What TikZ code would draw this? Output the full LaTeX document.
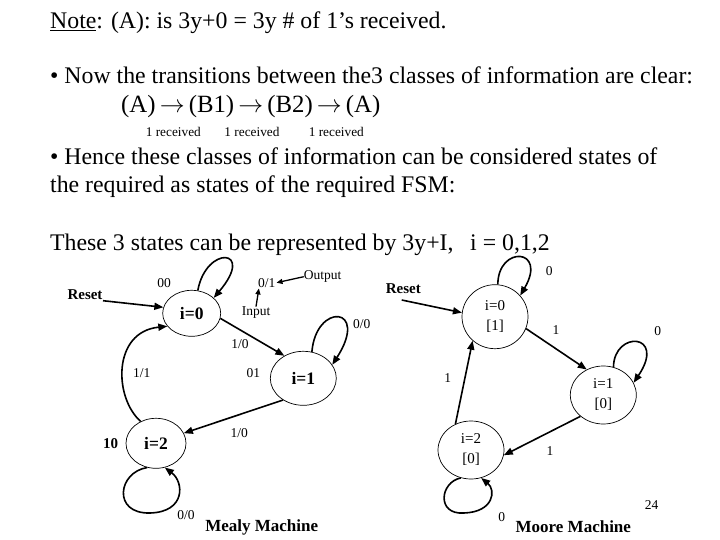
\documentclass[tikz,border=0pt]{standalone}
\usepackage{fontspec}
\setmainfont{Liberation Serif}
\usetikzlibrary{shapes.geometric,arrows.meta}
\tikzset{
  bigtext/.style={anchor=base west,inner sep=0pt,font=\fontsize{23.8}{26}\selectfont},
  smalltext/.style={inner sep=0pt,font=\fontsize{13.3}{15}\selectfont},
  lbl/.style={inner sep=0pt,font=\fontsize{13.5}{15}\selectfont},
  boldlbl/.style={inner sep=0pt,font=\fontsize{15}{17}\bfseries\selectfont},
  title/.style={inner sep=0pt,font=\fontsize{17}{19}\bfseries\selectfont},
  mstate/.style={ellipse,draw,line width=0.7pt,inner sep=0pt,font=\fontsize{17.5}{19}\bfseries\selectfont},
  ostate/.style={ellipse,draw,line width=0.7pt,inner sep=0pt,align=center,font=\fontsize{15}{20}\selectfont},
  tr/.style={line width=1.6pt,-{Triangle[length=9pt,width=7pt]}},
  thin tr/.style={line width=1.3pt,-{Triangle[length=6pt,width=5pt]}}
}
\newcommand{\myarr}{\,$\rightarrow$\,}
\begin{document}
\begin{tikzpicture}[x=1pt,y=-1pt]
\useasboundingbox (0,0) rectangle (720,540);
\fill[white] (0,0) rectangle (720,540);
% header text
\node[bigtext] (t1) at (50,29) {\underline{Note}: (A): is 3y+0 = 3y \# of 1’s received.};
\node[bigtext] (t2) at (50,84) {• Now the transitions between the3 classes of information are clear:};
\node[bigtext,font=\fontsize{24.8}{26}\selectfont] (t3) at (121,113) {(A)\myarr(B1)\myarr(B2)\myarr(A)};
\node[smalltext,anchor=base] (r1) at (173.3,137) {1 received};
\node[smalltext,anchor=base] (r2) at (252,137) {1 received};
\node[smalltext,anchor=base] (r3) at (336.3,137) {1 received};
\node[bigtext] (t4) at (50,165) {• Hence these classes of information can be considered states of};
\node[bigtext] (t5) at (50,193) {the required as states of the required FSM:};
\node[bigtext] (t6) at (50,250) {These 3 states can be represented by 3y+I,\hspace{0.45em} i = 0,1,2};
% Mealy machine
\node[mstate,minimum width=58pt,minimum height=46pt] (m0) at (191.7,313.3) {i=0};
\node[mstate,minimum width=66pt,minimum height=54pt] (m1) at (303.3,378.3) {i=1};
\node[mstate,minimum width=60pt,minimum height=50pt] (m2) at (156,443.3) {i=2};
\node[boldlbl] (mreset) at (85,295) {Reset};
\coordinate (mrs) at (103,300.7);
\node[lbl] (l00) at (164,283) {00};
\node[lbl] (l01s) at (266.7,282.7) {0/1};
\node[lbl] (lout) at (322.7,276.7) {Output};
\node[lbl] (linp) at (256,312.7) {Input};
\node[lbl] (l10a) at (240,344.3) {1/0};
\node[lbl] (l00b) at (361.7,324) {0/0};
\node[lbl] (l01) at (253.3,373.3) {01};
\node[lbl] (l10b) at (239.3,432.7) {1/0};
\node[lbl] (l11) at (141.7,373.3) {1/1};
\node[boldlbl] (l10) at (110.7,443.3) {10};
\node[lbl] (l00c) at (186,515) {0/0};
\node[title] (mealy) at (261.7,527) {Mealy Machine};
\draw[tr] (mrs) -- (m0.168);
\draw[tr] (m0.75) .. controls (206,245) and (256,248) .. (m0.35);
\draw[thin tr] (lout.west) -- ([xshift=1pt]l01s.east);
\draw[thin tr] (linp.north) -- ([xshift=1pt,yshift=-1pt]l01s.south west);
\draw[tr] (m0.350) -- (m1.130);
\draw[tr] (m1.72) .. controls (316,302) and (370,306) .. (m1.25);
\draw[tr] (m1.227) -- (m2.20);
\draw[tr] (m2.125) .. controls (114,398) and (112,332) .. (m0.208);
\draw[tr] (m2.250) .. controls (118,472) and (112,514) .. (150,513) .. controls (186,512) and (184,482) .. (m2.290);
% Moore machine
\node[ostate,minimum width=66pt,minimum height=64pt] (o0) at (495,316.7) {i=0\\{}[1]};
\node[ostate,minimum width=66pt,minimum height=58pt] (o1) at (603.3,395) {i=1\\{}[0]};
\node[ostate,minimum width=66pt,minimum height=58pt] (o2) at (471,450) {i=2\\{}[0]};
\node[boldlbl] (oreset) at (403.3,288.3) {Reset};
\coordinate (ors) at (401.7,300);
\node[lbl] (ol0a) at (549.3,270.7) {0};
\node[lbl] (ol1a) at (556,330) {1};
\node[lbl] (ol0b) at (657.7,330.7) {0};
\node[lbl] (ol1b) at (550,450.7) {1};
\node[lbl] (ol1c) at (447.7,378.3) {1};
\node[lbl] (ol0c) at (501.7,516.7) {0};
\node[lbl] (pg) at (651.7,505) {24};
\node[title] (moore) at (573.3,527) {Moore Machine};
\draw[tr] (ors) -- (o0.173);
\draw[tr] (o0.85) .. controls (498,245) and (548,248) .. (o0.40);
\draw[tr] (o0.339) -- (o1.123);
\draw[tr] (o1.70) .. controls (614,330) and (667,333) .. (o1.22);
\draw[tr] (o1.223) -- (o2.351);
\draw[tr] (o2.121) -- (o0.227);
\draw[tr] (o2.250) .. controls (440,482) and (436,515) .. (464,513) .. controls (494,512) and (496,490) .. (o2.290);
\end{tikzpicture}
\end{document}
